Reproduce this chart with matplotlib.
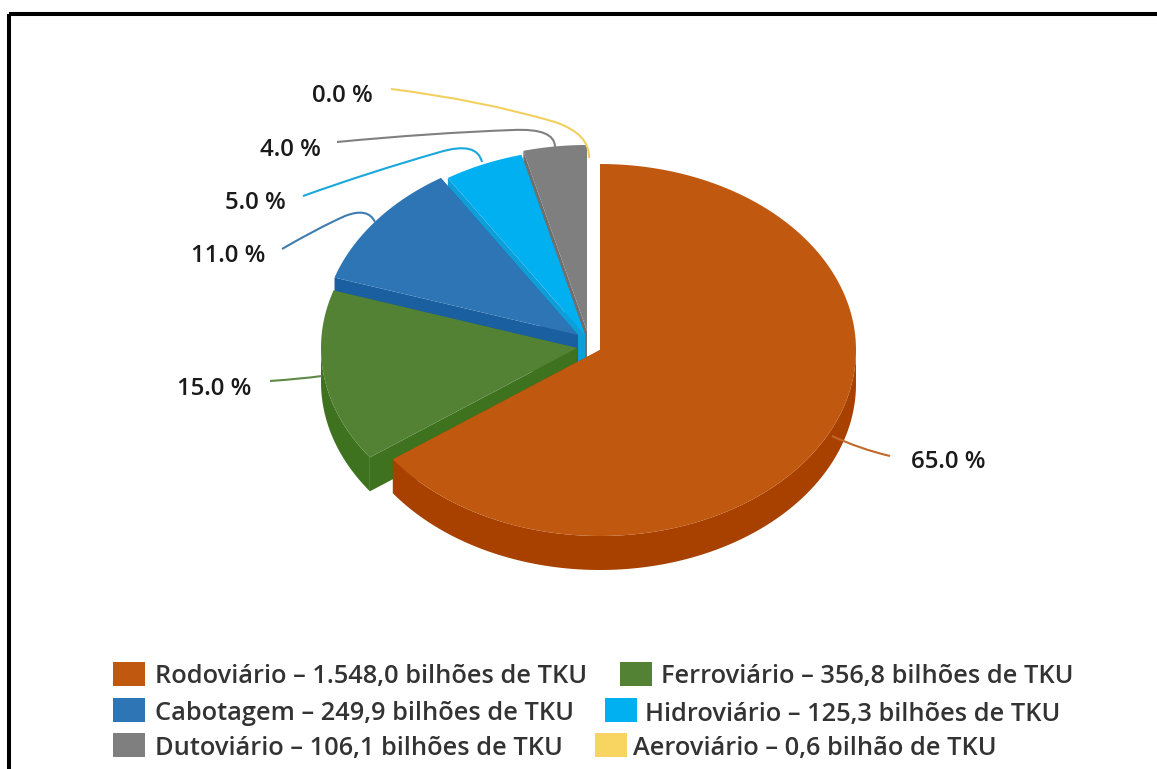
import numpy as np
import matplotlib
matplotlib.use("Agg")
import matplotlib.pyplot as plt
from matplotlib import font_manager as fm
from matplotlib.patches import PathPatch, Rectangle
from matplotlib.path import Path

categories = ["Rodoviário", "Ferroviário", "Cabotagem", "Hidroviário", "Dutoviário", "Aeroviário"]
percent = [65.0, 15.0, 11.0, 5.0, 4.0, 0.0]
legend_values = ["1.548,0 bilhões de TKU", "356,8 bilhões de TKU", "249,9 bilhões de TKU",
                 "125,3 bilhões de TKU", "106,1 bilhões de TKU", "0,6 bilhão de TKU"]
top_colors = ["#C0590F", "#548235", "#2E75B6", "#00B0F0", "#7F7F7F", "#F7D560"]
wall_colors = ["#A84000", "#3F721E", "#1A5FA0", "#0E9FD8", "#6F6F6F", "#F7D560"]
line_colors = ["#C0692A", "#5E8A45", "#3F7CB0", "#1AA8DC", "#808080", "#F2D060"]

centers = [(600, 350), (577, 348), (578, 335), (585, 335), (587, 331), (589, 331)]
RX, RY, DEPTH = 256, 186, 34

label_pos = [(948, 462), (214, 389), (228, 256), (255, 203), (290, 150), (342, 96)]
leaders = [
    [(832, 436), (860, 449), (890, 456)],
    [(270, 381), (300, 379), (322, 376)],
    [(282, 249), (318, 228), (345, 216), (368, 207), (375, 222)],
    [(303, 196), (370, 172), (440, 152), (477, 141), (482, 162)],
    [(337, 142), (430, 133), (513, 130), (555, 128), (555, 147)],
    [(391, 89), (480, 100), (555, 122), (590, 134), (589, 158)],
]
legend_swatch = [(113, 662), (620, 662), (113, 698), (605, 698), (113, 733), (595, 733)]
legend_text = [(155, 677), (661, 677), (155, 714), (645, 714), (155, 748), (633, 748)]

# pick a family that really has a heavy face
heavy_family, heavy_weight = "DejaVu Sans", "bold"
done = False
for want in (600, 700):
    for fam in ("Open Sans", "Noto Sans", "Lato", "Roboto", "Inter"):
        ws = [f.weight for f in fm.fontManager.ttflist if f.name == fam]
        ws = [{"bold": 700, "semibold": 600, "demibold": 600}.get(w, w) for w in ws]
        if want in ws:
            heavy_family, heavy_weight, done = fam, want, True
            break
    if done:
        break

fig = plt.figure(figsize=(11.57, 7.69), dpi=100)
ax = fig.add_axes([0, 0, 1, 1])
ax.set_xlim(0, 1157)
ax.set_ylim(769, 0)
ax.axis("off")


def pt(c, th):
    return c[0] + RX * np.sin(th), c[1] - RY * np.cos(th)


def fitted(s, target_px):
    t = ax.text(0, 0, s, fontsize=10, family=heavy_family, weight=heavy_weight)
    w = t.get_window_extent(fig.canvas.get_renderer()).width
    t.remove()
    return 10 * target_px / w


edges = np.cumsum([0.0] + percent) / 100 * 2 * np.pi
# back-to-front painter order
for i in [4, 3, 2, 1, 0]:
    c = centers[i]
    a, b = edges[i], edges[i + 1]
    th = np.linspace(a, b, 200)
    x, y = pt(c, th)
    for e in (a, b):
        ex, ey = pt(c, e)
        ax.fill([c[0], ex, ex, c[0]], [c[1], ey, ey + DEPTH, c[1] + DEPTH],
                color=wall_colors[i], lw=0)
    m = np.cos(th) < 0
    if m.any():
        ax.fill(np.r_[x[m], x[m][::-1]], np.r_[y[m], y[m][::-1] + DEPTH],
                color=wall_colors[i], lw=0)
    ax.fill(np.r_[c[0], x], np.r_[c[1], y], color=top_colors[i], lw=0)

pct_size = fitted("65.0 %", 75)
for i, pts in enumerate(leaders):
    code = [Path.MOVETO] + [Path.CURVE3] * (len(pts) - 1)
    ax.add_patch(PathPatch(Path(pts, code), fc="none", ec=line_colors[i], lw=1.5))
    ax.text(*label_pos[i], f"{percent[i]:.1f} %", ha="center", va="center",
            fontsize=pct_size, family=heavy_family, weight=heavy_weight, color="#1a1a1a")

leg_size = fitted(f"{categories[0]} – {legend_values[0]}", 432)
for i in range(6):
    sx, sy = legend_swatch[i]
    ax.add_patch(Rectangle((sx, sy), 32, 24, fc=top_colors[i], ec="none"))
    ax.text(*legend_text[i], f"{categories[i]} – {legend_values[i]}", ha="left", va="center",
            fontsize=leg_size, family=heavy_family, weight=heavy_weight, color="#333333")

# frame
ax.add_patch(Rectangle((9, 14), 1300, 800, fc="none", ec="black", lw=2.9, clip_on=True))
fig.savefig("out.png", dpi=100)
